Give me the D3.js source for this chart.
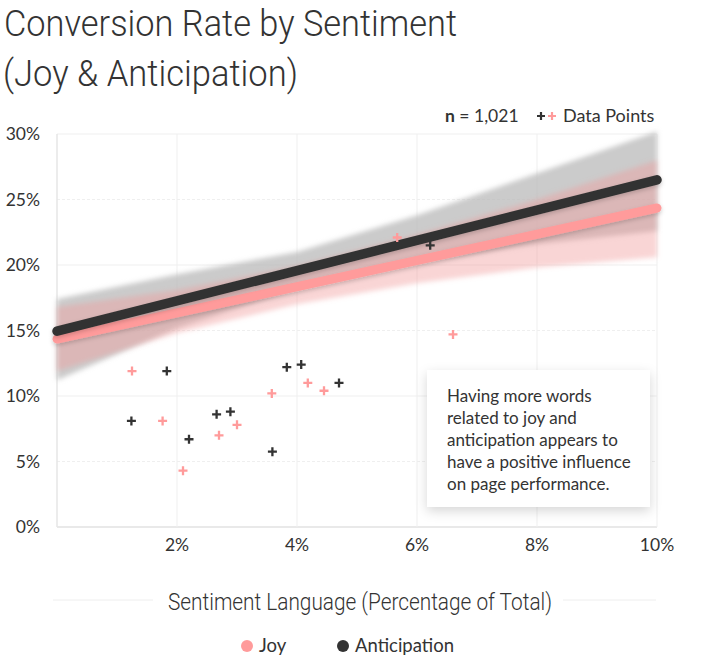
<!DOCTYPE html>
<html>
<head>
<meta charset="utf-8">
<script src="https://cdn.jsdelivr.net/npm/d3@7/dist/d3.min.js"></script>
<style>
  html, body { margin: 0; padding: 0; background: #fff; }
  svg { display: block; }
  .body-text { font-family: Lato, "Open Sans", sans-serif; fill: #333; }
  .cond { font-family: Roboto, sans-serif; font-weight: 300; fill: #333; }
</style>
</head>
<body>
<div id="chart"></div>
<script>
// ---- data ----
const xTicks = [2, 4, 6, 8, 10];
const yTicks = [0, 5, 10, 15, 20, 25, 30];

const joyX = [1.25, 1.76, 2.1, 2.7, 3.0, 3.58, 4.18, 4.45, 5.67, 6.6];
const joyY = [11.9, 8.1, 4.3, 7.0, 7.8, 10.2, 11.0, 10.4, 22.1, 14.7];

const antX = [1.24, 1.83, 2.2, 2.66, 2.89, 3.59, 3.83, 4.07, 4.7, 6.22];
const antY = [8.1, 11.9, 6.7, 8.6, 8.8, 5.75, 12.2, 12.4, 11.0, 21.5];

// fitted trend lines: [x, y] at both ends
const joyTrend = [[0, 14.35], [10, 24.35]];
const antTrend = [[0, 14.95], [10, 26.5]];

// confidence bands
const bandX = [0, 2, 4, 6, 8, 10];
const joyLo = [11.9, 14.8, 17.0, 18.6, 19.8, 20.6];
const joyHi = [16.8, 18.1, 19.9, 22.3, 25.0, 28.0];
const antLo = [11.2, 15.2, 18.2, 20.2, 21.6, 22.6];
const antHi = [17.4, 19.3, 21.0, 23.8, 27.0, 30.2];

const noteLines = [
  "Having more words",
  "related to joy and",
  "anticipation appears to",
  "have a positive influence",
  "on page performance."
];

const JOY = "#ff9b9b";
const ANT = "#333333";

const W = 708, H = 662;
const svg = d3.select("#chart").append("svg").attr("width", W).attr("height", H);

const defs = svg.append("defs");
defs.append("filter").attr("id", "blur")
  .attr("x", "-10%").attr("y", "-30%").attr("width", "120%").attr("height", "160%")
  .append("feGaussianBlur").attr("stdDeviation", 2.5);

const sh = defs.append("filter").attr("id", "shadow")
  .attr("x", "-20%").attr("y", "-20%").attr("width", "140%").attr("height", "150%");
sh.append("feDropShadow").attr("dx", 0).attr("dy", 4).attr("stdDeviation", 6)
  .attr("flood-color", "#000").attr("flood-opacity", 0.16);

const lsh = defs.append("filter").attr("id", "lineShadow")
  .attr("x", "-5%").attr("y", "-50%").attr("width", "110%").attr("height", "200%");
lsh.append("feDropShadow").attr("dx", 0).attr("dy", 2).attr("stdDeviation", 2)
  .attr("flood-color", "#000").attr("flood-opacity", 0.18);

const x = d3.scaleLinear().domain([0, 10]).range([57, 657]);
const y = d3.scaleLinear().domain([0, 30]).range([527, 134]);

/* ─── title ─── */
svg.append("text").attr("class", "cond")
  .attr("x", 4).attr("y", 36)
  .attr("font-size", 37)
  .attr("textLength", 453).attr("lengthAdjust", "spacingAndGlyphs")
  .text("Conversion Rate by Sentiment");
svg.append("text").attr("class", "cond")
  .attr("x", 3).attr("y", 86)
  .attr("font-size", 37)
  .attr("textLength", 295).attr("lengthAdjust", "spacingAndGlyphs")
  .text("(Joy & Anticipation)");

/* ─── grid ─── */
const grid = svg.append("g");
grid.selectAll(".hy").data(yTicks).join("line")
  .attr("x1", x(0)).attr("x2", x(10))
  .attr("y1", d => y(d)).attr("y2", d => y(d))
  .attr("stroke", d => d === 0 ? "#e2e2e2" : "#efefef")
  .attr("stroke-width", d => d === 0 ? 1.5 : 1)
  .attr("stroke-dasharray", d => d % 10 === 5 ? "3,2" : null);
grid.selectAll(".vx").data([0].concat(xTicks)).join("line")
  .attr("x1", d => x(d)).attr("x2", d => x(d))
  .attr("y1", y(30)).attr("y2", y(0))
  .attr("stroke", d => d === 0 ? "#e6e6e6" : "#efefef")
  .attr("stroke-width", d => d === 0 ? 1.5 : 1);

/* ─── axis labels ─── */
svg.append("g").selectAll("text").data(yTicks).join("text")
  .attr("class", "body-text")
  .attr("x", 40).attr("y", d => y(d)).attr("dy", "0.36em")
  .attr("text-anchor", "end").attr("font-size", 17.5)
  .text(d => d + "%");

svg.append("g").selectAll("text").data(xTicks).join("text")
  .attr("class", "body-text")
  .attr("x", d => x(d)).attr("y", 551)
  .attr("text-anchor", "middle").attr("font-size", 17.5)
  .text(d => d + "%");

/* ─── confidence bands ─── */
const area = (lo, hi) => d3.area()
  .x((d, i) => x(bandX[i]))
  .y0((d, i) => y(lo[i]))
  .y1((d, i) => y(hi[i]))(bandX);

svg.append("path").attr("d", area(antLo, antHi))
  .attr("fill", "#bababa").attr("fill-opacity", 0.75)
  .attr("filter", "url(#blur)");
svg.append("path").attr("d", area(joyLo, joyHi))
  .attr("fill", "#f09c9c").attr("fill-opacity", 0.42)
  .attr("filter", "url(#blur)");

/* ─── trend lines ─── */
const line = d3.line().x(d => x(d[0])).y(d => y(d[1]));
svg.append("path").attr("d", line(joyTrend))
  .attr("stroke", JOY).attr("stroke-width", 9).attr("stroke-linecap", "round")
  .attr("fill", "none").attr("filter", "url(#lineShadow)");
svg.append("path").attr("d", line(antTrend))
  .attr("stroke", ANT).attr("stroke-width", 9.5).attr("stroke-linecap", "round")
  .attr("fill", "none").attr("filter", "url(#lineShadow)");

/* ─── data points ─── */
const cross = (g, xs, ys, color) => {
  const pts = g.selectAll("g").data(xs.map((v, i) => [v, ys[i]])).join("g")
    .attr("transform", d => `translate(${x(d[0])},${y(d[1])})`);
  pts.append("path").attr("d", "M-4.5,0H4.5M0,-4.5V4.5")
    .attr("stroke", color).attr("stroke-width", 2.3);
};
cross(svg.append("g"), joyX, joyY, JOY);
cross(svg.append("g"), antX, antY, ANT);

/* ─── note box ─── */
svg.append("rect")
  .attr("x", 427).attr("y", 370).attr("width", 223).attr("height", 137)
  .attr("fill", "#fff").attr("filter", "url(#shadow)");
svg.append("g").selectAll("text").data(noteLines).join("text")
  .attr("class", "body-text")
  .attr("x", 447).attr("y", (d, i) => 402 + i * 22)
  .attr("font-size", 17)
  .text(d => d);

/* ─── top legend ─── */
const tl = svg.append("text").attr("class", "body-text")
  .attr("x", 445).attr("y", 122).attr("font-size", 17.5);
tl.append("tspan").attr("font-weight", 700).text("n");
tl.append("tspan").text(" = 1,021");
[[ANT, 541], [JOY, 552]].forEach(([c, cx]) => {
  svg.append("path")
    .attr("transform", `translate(${cx},116)`)
    .attr("d", "M-4,0H4M0,-4V4")
    .attr("stroke", c).attr("stroke-width", 2.2);
});
svg.append("text").attr("class", "body-text")
  .attr("x", 563).attr("y", 122).attr("font-size", 18)
  .text("Data Points");

/* ─── x axis title ─── */
svg.append("line").attr("x1", 53).attr("x2", 153).attr("y1", 600).attr("y2", 600)
  .attr("stroke", "#eee");
svg.append("line").attr("x1", 563).attr("x2", 656).attr("y1", 600).attr("y2", 600)
  .attr("stroke", "#eee");
svg.append("text").attr("class", "cond")
  .attr("x", 168).attr("y", 610).attr("font-size", 24)
  .attr("textLength", 384).attr("lengthAdjust", "spacingAndGlyphs")
  .text("Sentiment Language (Percentage of Total)");

/* ─── bottom legend ─── */
const legend = [["Joy", JOY, 247], ["Anticipation", ANT, 343]];
const lg = svg.append("g").selectAll("g").data(legend).join("g");
lg.append("circle").attr("cx", d => d[2]).attr("cy", 646).attr("r", 6)
  .attr("fill", d => d[1]);
lg.append("text").attr("class", "body-text")
  .attr("x", d => d[2] + 12).attr("y", 652).attr("font-size", 18.5)
  .text(d => d[0]);
</script>
</body>
</html>
